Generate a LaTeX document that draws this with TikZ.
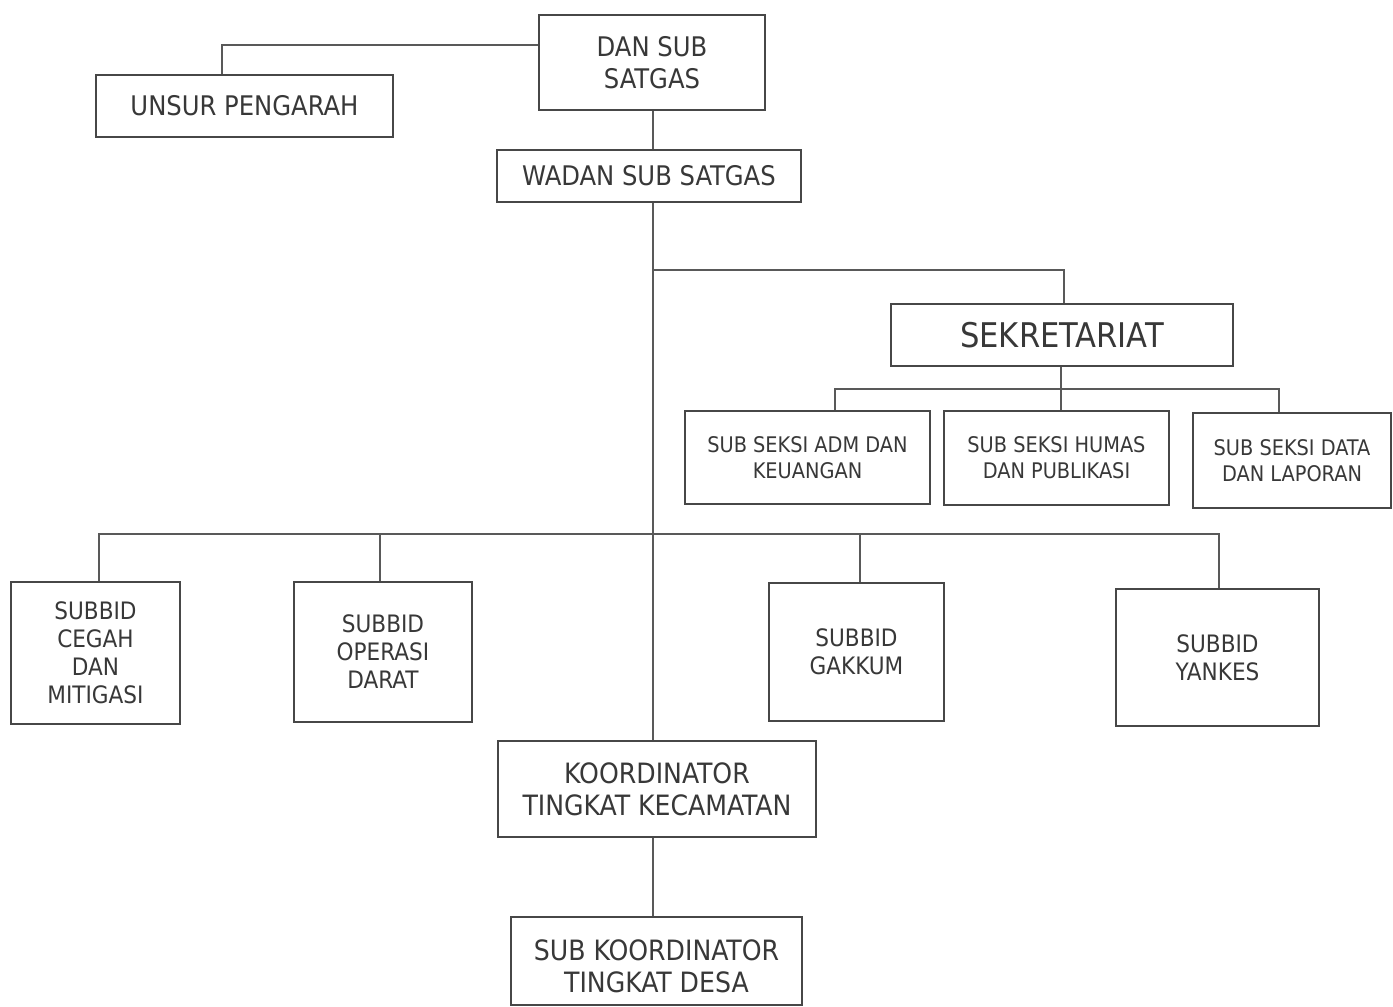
\documentclass[tikz,border=0pt]{standalone}
\usepackage{fontspec}
\setmainfont{DejaVu Sans Condensed}
\begin{document}
\begin{tikzpicture}[x=1pt,y=-1pt,
  box/.style={draw=black!72,line width=2pt,fill=white,inner sep=0pt,align=center,text=black!78},
  txt/.style={inner sep=0pt,align=center,text=black!78},
  conn/.style={draw=black!65,line width=1.3pt},
  fa/.style={font=\fontsize{27}{32}\selectfont},
  fk/.style={font=\fontsize{28}{32}\selectfont},
  fb/.style={font=\fontsize{21.5}{26}\selectfont},
  fc/.style={font=\fontsize{24}{28}\selectfont},
  fd/.style={font=\fontsize{34}{40}\selectfont}]
\useasboundingbox (0,0) rectangle (1393,1007);
% nodes
\node[box,fa,minimum width=226pt,minimum height=95pt] (dan) at (652,62.5) {DAN SUB\\SATGAS};
\node[box,fa,minimum width=297pt,minimum height=62pt] (unsur) at (244.5,106) {UNSUR PENGARAH};
\node[box,fa,minimum width=304pt,minimum height=52pt] (wadan) at (649,176) {WADAN SUB SATGAS};
\node[box,fd,minimum width=342pt,minimum height=62pt] (sek) at (1062,335) {SEKRETARIAT};
\node[box,fb,minimum width=245pt,minimum height=93pt] (adm) at (807.5,457.5) {SUB SEKSI ADM DAN\\KEUANGAN};
\node[box,fb,minimum width=225pt,minimum height=94pt] (humas) at (1056.5,458) {SUB SEKSI HUMAS\\DAN PUBLIKASI};
\node[box,fb,minimum width=198pt,minimum height=95pt] (data) at (1292,460.5) {SUB SEKSI DATA\\DAN LAPORAN};
\node[box,fc,minimum width=169pt,minimum height=142pt] (cegah) at (95.5,653) {SUBBID\\CEGAH\\DAN\\MITIGASI};
\node[box,fc,minimum width=178pt,minimum height=140pt] (operasi) at (383,652) {SUBBID\\OPERASI\\DARAT};
\node[box,fc,minimum width=175pt,minimum height=138pt] (gakkum) at (856.5,652) {SUBBID\\GAKKUM};
\node[box,fc,minimum width=203pt,minimum height=137pt] (yankes) at (1217.5,657.5) {SUBBID\\YANKES};
\node[box,fk,minimum width=318pt,minimum height=96pt] (koord) at (657,789) {KOORDINATOR\\TINGKAT KECAMATAN};
\node[box,minimum width=291pt,minimum height=88pt] (subk) at (656.5,961) {};
\node[txt,fk] (subkt) at (656.5,966) {SUB KOORDINATOR\\TINGKAT DESA};
% junction coordinates
\coordinate (j1) at (222,45);
\coordinate (m) at (653,0);
\coordinate (bs) at (653,270);
\coordinate (sx) at (1064,0);
\coordinate (sb) at (1061,389);
\coordinate (sl) at (835,389);
\coordinate (sr) at (1279,389);
\coordinate (bl) at (99,534);
\coordinate (br) at (1219,534);
\coordinate (xo) at (380,0);
\coordinate (xg) at (860,0);
% connectors
\draw[conn] (unsur.north -| j1) -- (j1) -- (dan.west |- j1);
\draw[conn] (dan.south -| m) -- (wadan.north -| m);
\draw[conn] (wadan.south -| m) -- (koord.north -| m);
\draw[conn] (bs) -| (sek.north -| sx);
\draw[conn] (sek.south -| sb) -- (sb);
\draw[conn] (adm.north -| sl) -- (sl) -- (sr) -- (data.north -| sr);
\draw[conn] (sb) -- (humas.north -| sb);
\draw[conn] (cegah.north -| bl) -- (bl) -- (br) -- (yankes.north -| br);
\draw[conn] (operasi.north -| xo) -- (bl -| xo);
\draw[conn] (gakkum.north -| xg) -- (bl -| xg);
\draw[conn] (koord.south -| m) -- (subk.north -| m);
\end{tikzpicture}
\end{document}
